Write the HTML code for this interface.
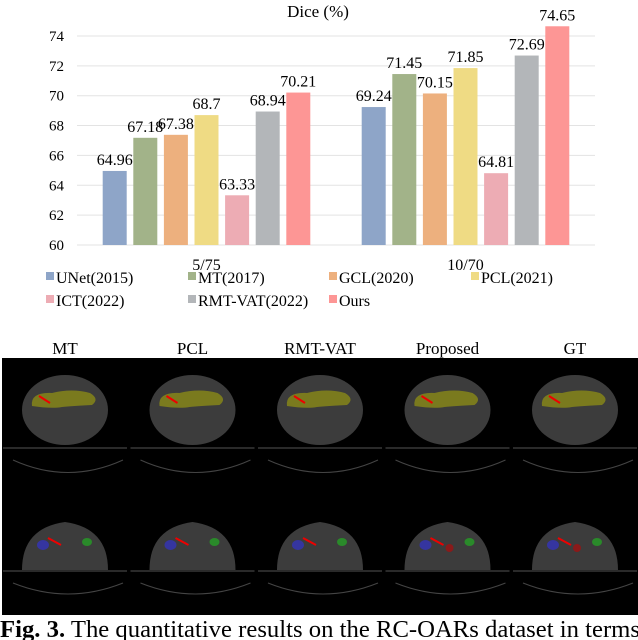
<!DOCTYPE html>
<html><head><meta charset="utf-8"><style>
body{margin:0;width:638px;height:640px;overflow:hidden;background:#fff;}
svg{display:block}
svg text{font-family:"Liberation Serif","Times New Roman",serif;}
</style></head><body>
<svg width="638" height="640" font-family="Liberation Serif, serif">
<text x="318" y="17" font-size="17" text-anchor="middle">Dice (%)</text>
<g id="grid"></g><g id="bars"></g><g id="legend"></g>
<g id="panel">
<rect x="2" y="358" width="636" height="257" fill="#000"/>
</g>
<text x="0" y="637" font-size="24" textLength="640" lengthAdjust="spacingAndGlyphs"><tspan font-weight="bold">Fig. 3.</tspan> The quantitative results on the RC-OARs dataset in terms</text>
</svg>
<script>
const categories=["5/75","10/70"];
const seriesNames=["UNet(2015)","MT(2017)","GCL(2020)","PCL(2021)","ICT(2022)","RMT-VAT(2022)","Ours"];
const colors=["#8EA5C8","#A2B389","#EDB07E","#EFDB84","#EDACB4","#B3B6B9","#FD9695"];
const group1=[64.96,67.18,67.38,68.7,63.33,68.94,70.21];
const group2=[69.24,71.45,70.15,71.85,64.81,72.69,74.65];
const yTicks=[60,62,64,66,68,70,72,74];
const NS="http://www.w3.org/2000/svg";
function mk(t,a,p){const e=document.createElementNS(NS,t);for(const k in a)e.setAttribute(k,a[k]);p.appendChild(e);return e;}
const y=v=>245-(v-60)*14.93;
const x0=77,catW=259,barW=24,step=30.6;
const catX=i=>x0+catW*i+catW/2;
const grid=document.getElementById('grid');
yTicks.forEach(t=>{
 const l=mk('line',{x1:x0,x2:x0+catW*2,y1:y(t),y2:y(t),stroke:'#e3e3e3','stroke-width':1},grid);
 
 
 const tx=mk('text',{x:64,y:y(t)+5,'font-size':15,'text-anchor':'end'},grid);tx.textContent=t;
 
 
});
const bars=document.getElementById('bars');
[group1,group2].forEach((vals,ci)=>{
 const cx=catX(ci);
 vals.forEach((v,si)=>{
  const bx=cx+(si-3)*step-barW/2;
  const r=mk('rect',{x:bx,y:y(v),width:barW,height:y(60)-y(v),fill:colors[si]},bars);
  
  
  const t=mk('text',{x:bx+barW/2,y:y(v)-6,'font-size':16,'text-anchor':'middle'},bars);t.textContent=v;
  
  
 });
 const c=mk('text',{x:cx,y:270,'font-size':16,'text-anchor':'middle'},bars);c.textContent=categories[ci];
 
 
});
const leg=document.getElementById('legend');
const lx=[46,188,329,471];
seriesNames.forEach((n,i)=>{
 const row=Math.floor(i/4),col=i%4,yy=277+row*23;
 const g=mk('g',{},leg);
 
 
 mk('rect',{x:lx[col],y:yy-5,width:8,height:8,fill:colors[i]},g);
 const t=mk('text',{x:lx[col]+10,y:yy+6,'font-size':16},g);t.textContent=n;
});
const P=document.getElementById('panel');
const labels=["MT","PCL","RMT-VAT","Proposed","GT"];
labels.forEach((l,i)=>{
 const cx=65+i*127.5;
 const t=mk('text',{x:cx,y:354,'font-size':17,'text-anchor':'middle'},P);t.textContent=l;
 
 
 mk('ellipse',{cx:cx,cy:410,rx:43,ry:35,fill:'#3c3c3c'},P);
 mk('path',{d:`M${cx-33} 406 q-2 -14 20 -13 q20 -5 38 0 q10 6 2 12 q-20 1 -30 2 q-10 2 -30 -1 z`,fill:'#7a7a1e'},P);
 mk('line',{x1:cx-62,x2:cx+62,y1:448,y2:448,stroke:'#555'},P);
 mk('path',{d:`M${cx-52} 460 q55 25 110 0`,stroke:'#444',fill:'none'},P);
 mk('line',{x1:cx-26,y1:396,x2:cx-15,y2:403,stroke:'#e00','stroke-width':2},P);
 mk('path',{d:`M${cx-43} 570 q0 -42 43 -48 q43 6 43 48 z`,fill:'#3c3c3c'},P);
 mk('ellipse',{cx:cx-22,cy:545,rx:6,ry:5,fill:'#3535a0'},P);
 mk('ellipse',{cx:cx+22,cy:542,rx:5,ry:4,fill:'#2a8a2a'},P);
 if(i>=3)mk('circle',{cx:cx+2,cy:548,r:4,fill:'#8a1a1a'},P);
 mk('line',{x1:cx-62,x2:cx+62,y1:571,y2:571,stroke:'#555'},P);
 mk('path',{d:`M${cx-52} 583 q55 22 110 0`,stroke:'#444',fill:'none'},P);
 mk('line',{x1:cx-17,y1:538,x2:cx-4,y2:545,stroke:'#e00','stroke-width':2},P);
});
</script>
</body></html>
